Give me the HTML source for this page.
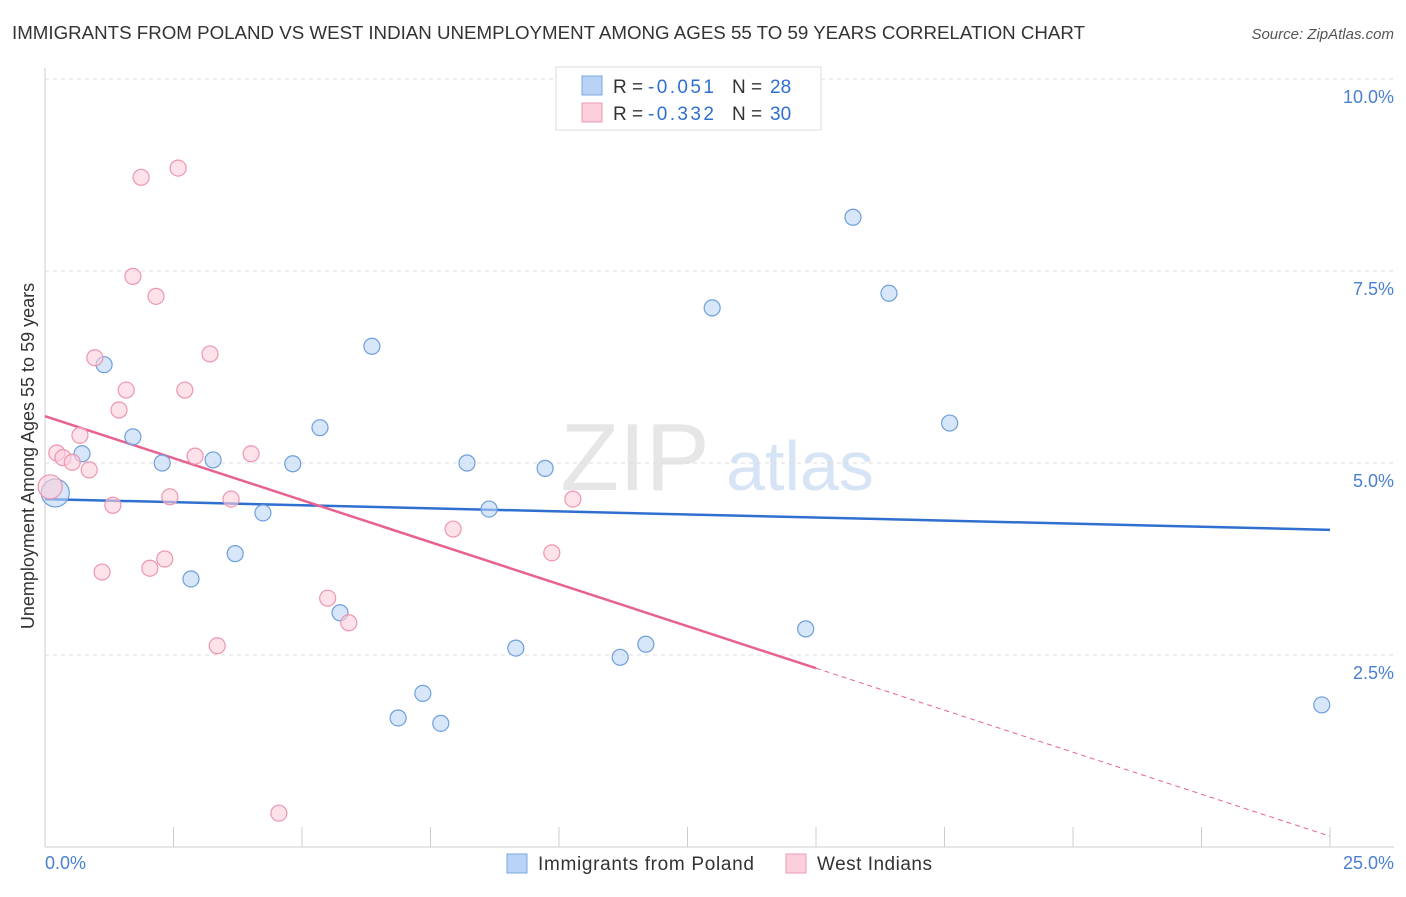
<!DOCTYPE html>
<html><head><meta charset="utf-8">
<style>
body{margin:0;background:#fff;font-family:"Liberation Sans",sans-serif;}
svg text{font-family:"Liberation Sans",sans-serif;}
</style></head>
<body>
<svg id="chart" width="1406" height="892">
<text x="12" y="39" font-size="18" fill="#333" textLength="1073" lengthAdjust="spacingAndGlyphs">IMMIGRANTS FROM POLAND VS WEST INDIAN UNEMPLOYMENT AMONG AGES 55 TO 59 YEARS CORRELATION CHART</text>
<text x="1394" y="39" font-size="15" fill="#555" text-anchor="end" font-style="italic">Source: ZipAtlas.com</text>
<text x="635" y="490" font-size="96" fill="#e6e6e6" font-family="Liberation Serif" text-anchor="middle">ZIP</text>
<text x="800" y="490" font-size="70" fill="#d6e4f5" text-anchor="middle">atlas</text>
<g id="grid"></g>
<g id="axes"></g>
<g id="lines"></g>
<g id="pts"></g>
<text transform="translate(34,456) rotate(-90)" font-size="18" fill="#333" text-anchor="middle">Unemployment Among Ages 55 to 59 years</text>
<text x="45" y="869" font-size="18" fill="#4a80d0">0.0%</text>
<text x="1394" y="869" font-size="18" fill="#4a80d0" text-anchor="end">25.0%</text>
<g>
<rect x="556" y="67" width="265" height="63" fill="#fff" stroke="#ddd"/>
<rect x="582" y="76" width="20" height="19" fill="#b8d3f5" stroke="#7aa8e0"/>
<rect x="582" y="103" width="20" height="19" fill="#fbd0dc" stroke="#ee9ab3"/>
<text x="613" y="93" font-size="19" fill="#333">R = </text>
<text x="648" y="93" font-size="19" fill="#2f6fd0" textLength="66">-0.051</text>
<text x="732" y="93" font-size="19" fill="#333">N = </text>
<text x="770" y="93" font-size="19" fill="#2f6fd0">28</text>
<text x="613" y="120" font-size="19" fill="#333">R = </text>
<text x="648" y="120" font-size="19" fill="#2f6fd0" textLength="66">-0.332</text>
<text x="732" y="120" font-size="19" fill="#333">N = </text>
<text x="770" y="120" font-size="19" fill="#2f6fd0">30</text>
</g>
<g>
<rect x="507" y="854" width="20" height="19" fill="#b8d3f5" stroke="#7aa8e0"/>
<text x="538" y="870" font-size="19" fill="#333" textLength="216">Immigrants from Poland</text>
<rect x="786" y="854" width="20" height="19" fill="#fbd0dc" stroke="#ee9ab3"/>
<text x="817" y="870" font-size="19" fill="#333" textLength="115">West Indians</text>
</g>
</svg>
<script>
const yTicks=[2.5,5.0,7.5,10.0];
const yTickLabels=["2.5%","5.0%","7.5%","10.0%"];
const blueX=[0.2,0.72,1.15,1.71,2.28,2.84,3.27,3.70,4.24,4.82,5.35,5.74,6.36,6.87,7.35,7.70,8.21,8.64,9.16,9.73,11.19,11.69,12.98,14.8,15.72,16.42,17.6,24.84];
const blueY=[4.61,5.12,6.28,5.34,5.0,3.49,5.04,3.82,4.35,4.99,5.46,3.05,6.52,1.68,2.0,1.61,5.0,4.40,2.59,4.93,2.47,2.64,7.02,2.84,8.2,7.21,5.52,1.85];
const pinkX=[0.1,0.23,0.35,0.53,0.68,0.86,0.97,1.11,1.32,1.44,1.58,1.71,1.87,2.04,2.16,2.33,2.43,2.59,2.72,2.92,3.21,3.35,3.62,4.01,4.55,5.50,5.91,7.94,9.86,10.27];
const pinkY=[4.69,5.13,5.07,5.01,5.36,4.91,6.37,3.58,4.45,5.69,5.95,7.43,8.72,3.63,7.17,3.75,4.56,8.84,5.95,5.09,6.42,2.62,4.53,5.12,0.44,3.24,2.92,4.14,3.83,4.53];
const blueTrend=[4.53,4.13];
const pinkTrend=[5.61,0.14];
const pinkSolidEnd=15;
const NS="http://www.w3.org/2000/svg";
const X=v=>45+v*51.4, Y=v=>847-v*76.8;
function mk(tag,parent,attrs){const e=document.createElementNS(NS,tag);for(const k in attrs)e.setAttribute(k,attrs[k]);document.getElementById(parent).appendChild(e);return e;}
yTicks.forEach((t,i)=>{
 const g=mk('line','grid',{x1:45,x2:1394,y1:Y(t),y2:Y(t),stroke:'#ddd','stroke-dasharray':'4,4'});
 
 
 const tx=mk('text','grid',{x:1394,y:Y(t)+24,'font-size':18,fill:'#4a80d0','text-anchor':'end'});
 tx.textContent=yTickLabels[i];
 
 
});
const ya=mk('line','axes',{x1:45,x2:45,y1:68,y2:847,stroke:'#ccc'});


const xa=mk('line','axes',{x1:45,x2:1394,y1:847,y2:847,stroke:'#ccc'});


for(let i=1;i<=10;i++){
 const t=mk('line','axes',{x1:X(i*2.5),x2:X(i*2.5),y1:827,y2:847,stroke:'#ccc'});
 
 
}
function dot(x,y,fill,stroke,r,name){
 const c=mk('circle','pts',{cx:X(x),cy:Y(y),r:r,fill:fill,stroke:stroke,'stroke-width':1.2,'fill-opacity':0.6});
 
 
}
blueX.forEach((x,i)=>dot(x,blueY[i],'#bcd5f5','#6d9fdc',i==0?14:8,'poland-point'));
pinkX.forEach((x,i)=>dot(x,pinkY[i],'#fbcfdc','#ee95b0',i==0?12:8,'west-indian-point'));
const bl=mk('line','lines',{x1:X(0),y1:Y(blueTrend[0]),x2:X(25),y2:Y(blueTrend[1]),stroke:'#2f6fd0','stroke-width':2.5});


const pm=pinkTrend[0]+(pinkTrend[1]-pinkTrend[0])*pinkSolidEnd/25;
const pl=mk('line','lines',{x1:X(0),y1:Y(pinkTrend[0]),x2:X(pinkSolidEnd),y2:Y(pm),stroke:'#e8628f','stroke-width':2.5});


const pd=mk('line','lines',{x1:X(pinkSolidEnd),y1:Y(pm),x2:X(25),y2:Y(pinkTrend[1]),stroke:'#e8628f','stroke-width':1,'stroke-dasharray':'5,4'});


</script>
</body></html>
